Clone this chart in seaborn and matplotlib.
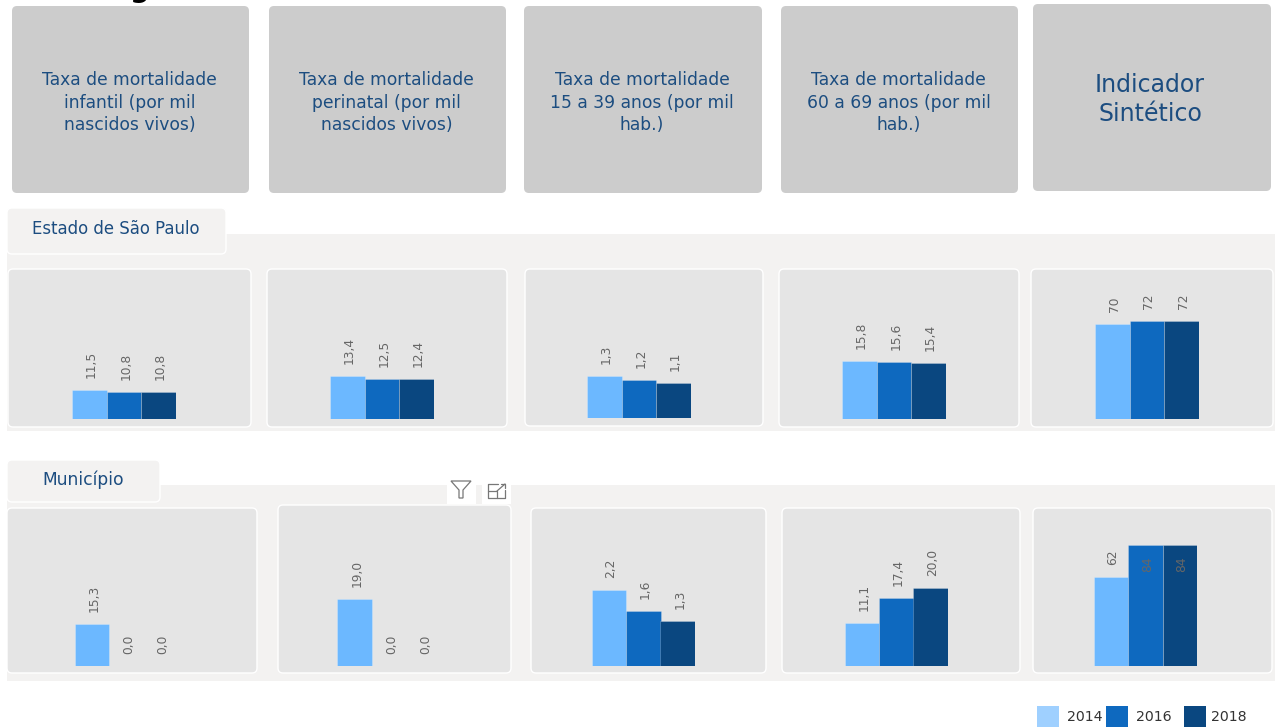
import matplotlib
matplotlib.use("Agg")
import matplotlib.pyplot as plt
from matplotlib.patches import FancyBboxPatch, Rectangle, Polygon
import pandas as pd
import seaborn as sns

W, H = 1277, 727

anos = ["2014", "2016", "2018"]
cores = ["#6cb8ff", "#0e69bf", "#0a4780"]
cor_legenda = ["#9fd0ff", "#0e69bf", "#0a4780"]
azul_texto = "#1c4d80"

titulos = [
    "Taxa de mortalidade\ninfantil (por mil\nnascidos vivos)",
    "Taxa de mortalidade\nperinatal (por mil\nnascidos vivos)",
    "Taxa de mortalidade\n15 a 39 anos (por mil\nhab.)",
    "Taxa de mortalidade\n60 a 69 anos (por mil\nhab.)",
    "Indicador\nSintético",
]

estado = [[11.5, 10.8, 10.8], [13.4, 12.5, 12.4], [1.3, 1.2, 1.1], [15.8, 15.6, 15.4], [70, 72, 72]]
municipio = [[15.3, 0.0, 0.0], [19.0, 0.0, 0.0], [2.2, 1.6, 1.3], [11.1, 17.4, 20.0], [62, 84, 84]]

# limite do eixo y de cada painel
ymax_estado = [59.5, 46.9, 4.65, 40.9, 110.5]
ymax_municipio = [57.5, 45.5, 4.58, 40.5, 109.7]

# layout em pixels: (x0, x1, y0, y1)
cards = [(12, 249, 6, 193), (269, 506, 6, 193), (524, 762, 6, 193), (781, 1018, 6, 193), (1033, 1271, 4, 191)]
paineis_estado = [(8, 251, 269, 427), (267, 507, 269, 427), (525, 763, 269, 426), (779, 1019, 269, 427), (1031, 1273, 269, 427)]
paineis_mun = [(7, 257, 508, 673), (278, 511, 505, 673), (531, 766, 508, 673), (782, 1020, 508, 673), (1033, 1272, 508, 673)]
barras_estado = [(72, 419), (330, 419), (587, 418), (842, 419), (1095, 419)]
barras_mun = [(74.5, 666), (337.5, 666), (591.5, 666), (844.5, 666), (1093.5, 666)]
LARG = 103.5

sns.set_theme(style="white")
plt.rcParams["font.family"] = ["DejaVu Sans"]

fig = plt.figure(figsize=(W / 100, H / 100), dpi=100, facecolor="white")
bg = fig.add_axes([0, 0, 1, 1])
bg.set_xlim(0, W)
bg.set_ylim(H, 0)
bg.axis("off")


def caixa(x0, x1, y0, y1, cor, borda="none", r=5, lw=1.0, z=1):
    bg.add_patch(FancyBboxPatch((x0 + r, y0 + r), x1 - x0 - 2 * r, y1 - y0 - 2 * r,
                                boxstyle=f"round,pad={r},rounding_size={r}",
                                fc=cor, ec=borda, lw=lw, zorder=z))


# pedaco do titulo cortado no topo
bg.text(140, -3, "g", fontsize=20, fontweight="bold", color="black", ha="center", va="baseline")

for i, (x0, x1, y0, y1) in enumerate(cards):
    caixa(x0, x1, y0, y1, "#cccccc")
    ultimo = i == 4
    bg.text((x0 + x1) / 2 - (2 if ultimo else 1), 99.5 if ultimo else 102.5, titulos[i], ha="center", va="center",
            color=azul_texto, fontsize=17 if ultimo else 12.3, linespacing=1.25 if ultimo else 1.3)

# faixas e abas
bg.add_patch(Rectangle((7, 234), 1268, 197, fc="#f3f2f1", ec="none", zorder=0))
bg.add_patch(Rectangle((7, 485), 1268, 196, fc="#f3f2f1", ec="none", zorder=0))
caixa(7, 226, 208, 254, "#f3f2f1", "white")
caixa(7, 160, 460, 502, "#f3f2f1", "white")
bg.text(116, 229, "Estado de São Paulo", ha="center", va="center", color=azul_texto, fontsize=11.9)
bg.text(83, 480, "Município", ha="center", va="center", color=azul_texto, fontsize=12.3)

for p in paineis_estado + paineis_mun:
    caixa(*p, "#e5e5e5", "white", z=2)

# icones de filtro e expandir
bg.add_patch(Rectangle((447, 478), 29, 26, fc="white", ec="none", zorder=3))
bg.add_patch(Rectangle((482, 478), 29, 26, fc="white", ec="none", zorder=3))
bg.add_patch(Polygon([(451, 481), (471, 481), (463, 490), (463, 498), (459, 498), (459, 490)],
                     closed=True, fc="none", ec="#777777", lw=0.9, zorder=4))
bg.plot([498, 488, 488, 505, 505], [484, 484, 498, 498, 490], color="#777777", lw=0.9, zorder=4)
bg.plot([488, 497, 497], [491, 491, 498], color="#777777", lw=0.9, zorder=4)
bg.plot([497, 505], [491, 484], color="#777777", lw=0.9, zorder=4)
bg.plot([501, 505, 505], [484, 484, 488], color="#777777", lw=0.9, zorder=4)


def barras(valores, ymax, x_px, base_px, topo_px, casas, dentro=False):
    df = pd.DataFrame({"ano": anos, "valor": valores})
    ax = fig.add_axes([x_px / W, 1 - base_px / H, LARG / W, (base_px - topo_px) / H])
    sns.barplot(data=df, x="ano", y="valor", hue="ano", hue_order=anos, palette=cores, width=1,
                dodge=False, legend=False, saturation=1, ax=ax, edgecolor="#ffffff40", linewidth=0.6)
    ax.set_xlim(-0.5, 2.5)
    ax.set_ylim(0, ymax)
    ax.axis("off")
    for c, v in zip(ax.containers, valores):
        rot = f"{v:.{casas}f}".replace(".", ",")
        pad = -19.5 if (dentro and v == max(valores)) else 8.6
        for t in ax.bar_label(c, labels=[rot] * len(c), rotation=90, padding=pad, fontsize=8.8, color="#666666"):
            t.xyann = (1.5, t.xyann[1])


for i in range(5):
    casas = 0 if i == 4 else 1
    xb, yb = barras_estado[i]
    barras(estado[i], ymax_estado[i], xb, yb, paineis_estado[i][2], casas)
    xb, yb = barras_mun[i]
    barras(municipio[i], ymax_municipio[i], xb, yb, paineis_mun[i][2], casas, dentro=i == 4)

# legenda
for x, x_txt, cor, ano in zip([1037, 1106, 1184], [1067, 1136, 1211], cor_legenda, anos):
    bg.add_patch(Rectangle((x, 706), 22, 21, fc=cor, ec="none", zorder=2))
    bg.text(x_txt, 717, ano, ha="left", va="center", color="#333333", fontsize=10.2)

fig.savefig("out.png", dpi=100)
